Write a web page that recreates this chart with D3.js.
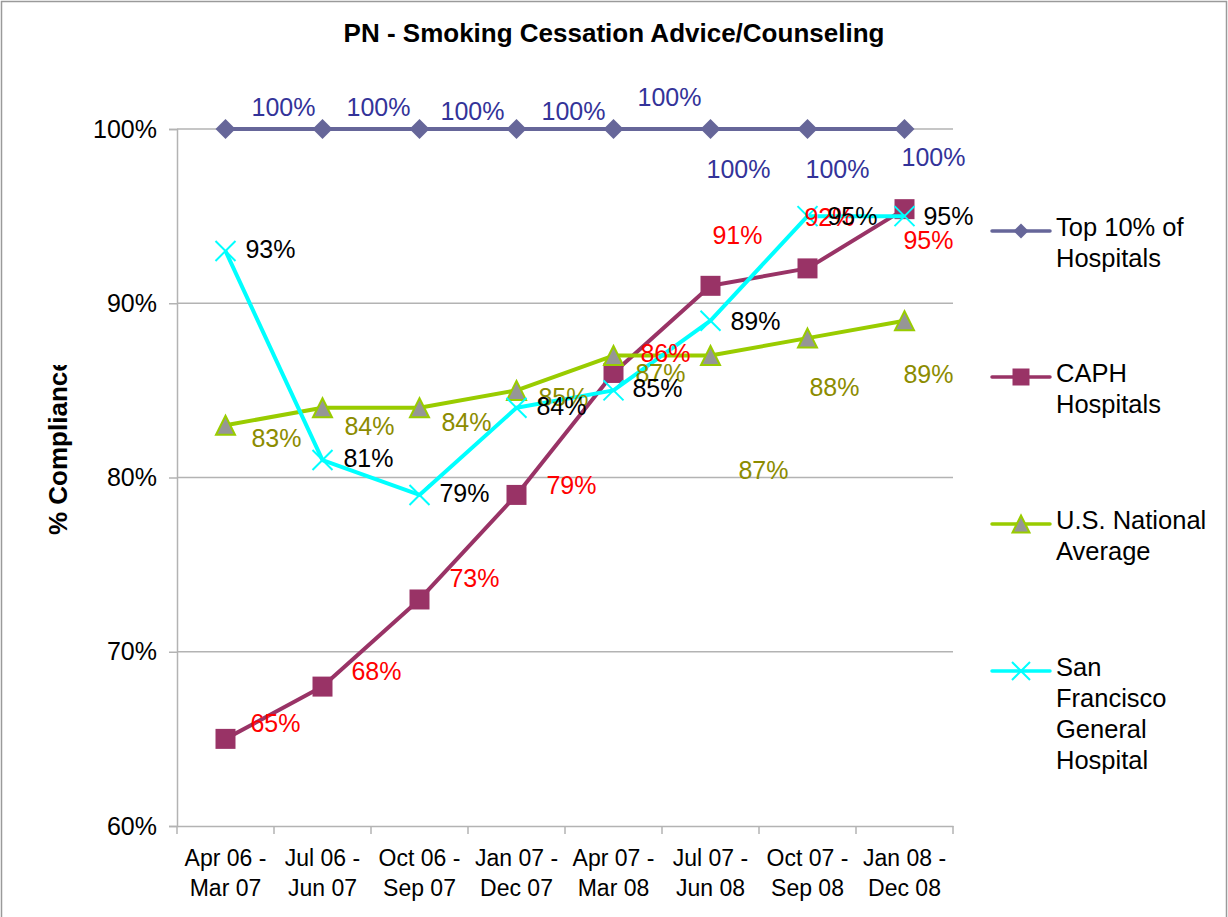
<!DOCTYPE html>
<html>
<head>
<meta charset="utf-8">
<script src="https://cdn.jsdelivr.net/npm/d3@7"></script>
<style>
  html, body { margin: 0; padding: 0; background: #fff; }
  svg { display: block; font-family: "Liberation Sans", Arial, sans-serif; }
</style>
</head>
<body>
<svg id="chart" width="1228" height="917"></svg>
<script>
// ---- data ----
const categories = [
  ["Apr 06 -", "Mar 07"], ["Jul 06 -", "Jun 07"], ["Oct 06 -", "Sep 07"], ["Jan 07 -", "Dec 07"],
  ["Apr 07 -", "Mar 08"], ["Jul 07 -", "Jun 08"], ["Oct 07 -", "Sep 08"], ["Jan 08 -", "Dec 08"]
];
const top10Values    = [100, 100, 100, 100, 100, 100, 100, 100];
const caphValues     = [65, 68, 73, 79, 86, 91, 92, 95.4];
const nationalValues = [83, 84, 84, 85, 87, 87, 88, 89];
const sfghValues     = [93, 81, 79, 84, 85, 89, 95, 95];
const yTickValues    = [60, 70, 80, 90, 100];
const seriesNames = [
  ["Top 10% of", "Hospitals"],
  ["CAPH", "Hospitals"],
  ["U.S. National", "Average"],
  ["San", "Francisco", "General", "Hospital"]
];
const titleText = "PN - Smoking Cessation Advice/Counseling";
const yTitleText = "% Compliance";

// label offsets (layout, in px relative to each point)
const top10LabelOff    = [[58,-22],[56,-22],[53,-18],[57,-18],[56,-32],[28,40],[30,40],[29,28]];
const caphLabelOff     = [[50,-16],[54,-16],[55,-21],[55,-10],[52,-20],[27,-51],[22,-51],[24,31]];
const nationalLabelOff = [[51,13],[47,18],[47,14],[47,7],[47,17],[53,114],[27,49],[24,53]];
const sfghLabelOff     = [[45,-2],[46,-2],[45,-2],[45,-2],[44,-2],[45,0],[45,0],[44,0]];

(function () {
// ---- layout ----
const svg = d3.select("#chart");
const pLeft = 177, pRight = 953, pTop = 129, pBottom = 826;

const x = d3.scaleBand().domain(d3.range(categories.length)).range([pLeft, pRight]).padding(0);
const y = d3.scaleLinear().domain([60, 100]).range([pBottom, pTop]);
const cx = i => x(i) + x.bandwidth() / 2;

// outer border
svg.append("path").attr("d", "M1.5,917 V1.5 H1226.5 V917")
  .attr("fill", "none").attr("stroke", "#9a9a9a").attr("stroke-width", 1.5);

// title
svg.append("text").attr("x", 614).attr("y", 42).attr("text-anchor", "middle")
  .attr("font-size", 26).attr("font-weight", "bold").text(titleText);

// gridlines
svg.append("g").selectAll("line").data(yTickValues.filter(v => v > 60)).join("line")
  .attr("x1", pLeft).attr("x2", pRight).attr("y1", d => y(d)).attr("y2", d => y(d))
  .attr("stroke", "#b3b3b3").attr("stroke-width", 1.5);

// y axis
const yAxis = svg.append("g").attr("transform", `translate(${pLeft},0)`)
  .call(d3.axisLeft(y).tickValues(yTickValues).tickFormat(d => d + "%").tickSize(8).tickPadding(12));
yAxis.selectAll("path, line").attr("stroke", "#b3b3b3").attr("stroke-width", 1.5);
yAxis.selectAll("text").attr("font-size", 25).attr("font-family", "Liberation Sans, Arial, sans-serif").attr("fill", "#000");

// x axis
const xAxis = svg.append("g").attr("transform", `translate(0,${pBottom})`)
  .call(d3.axisBottom(x).tickSize(0).tickFormat(""));
xAxis.select("path").attr("stroke", "#b3b3b3").attr("stroke-width", 1.5);
svg.append("g").selectAll("line").data(d3.range(categories.length + 1)).join("line")
  .attr("x1", i => i < categories.length ? x(i) : pRight)
  .attr("x2", i => i < categories.length ? x(i) : pRight)
  .attr("y1", pBottom).attr("y2", pBottom + 8)
  .attr("stroke", "#b3b3b3").attr("stroke-width", 1.5);
const xl = svg.append("g").selectAll("text").data(categories).join("text")
  .attr("text-anchor", "middle").attr("font-size", 23).attr("fill", "#000");
xl.each(function(d, i) {
  const t = d3.select(this);
  d.forEach((ln, j) => t.append("tspan").attr("x", cx(i)).attr("y", 866 + j * 30).text(ln));
});

// y title (clipped at top like the reference)
svg.append("clipPath").attr("id", "ytclip").append("rect")
  .attr("x", 0).attr("y", 365).attr("width", 120).attr("height", 552);
svg.append("g").attr("clip-path", "url(#ytclip)")
  .append("text")
  .attr("transform", "translate(66.5,535) rotate(-90)")
  .attr("font-size", 26).attr("font-weight", "bold").text(yTitleText);

// ---- series ----
const diamond = r => `M0,${-r}L${r},0L0,${r}L${-r},0Z`;
const square = r => `M${-r},${-r}H${r}V${r}H${-r}Z`;
const triangle = r => `M0,${-r}L${r},${r}H${-r}Z`;
const cross = r => `M${-r},${-r}L${r},${r}M${r},${-r}L${-r},${r}`;

const series = [
  { values: top10Values, color: "#666699", labelColor: "#333399", off: top10LabelOff,
    marker: diamond, fill: "#666699", stroke: "none", sw: 0, r: 10, lr: 7.5 },
  { values: caphValues, color: "#993366", labelColor: "#ff0000", off: caphLabelOff,
    marker: square, fill: "#993366", stroke: "none", sw: 0, r: 10, lr: 8.5 },
  { values: nationalValues, color: "#99cc00", labelColor: "#8c8c00", off: nationalLabelOff,
    marker: triangle, fill: "#969696", stroke: "#99cc00", sw: 2, r: 9.5, lr: 8.5 },
  { values: sfghValues, color: "#00ffff", labelColor: "#000000", off: sfghLabelOff,
    marker: cross, fill: "none", stroke: "#00ffff", sw: 2, r: 10, lr: 9 }
];

const line = d3.line().x((d, i) => cx(i)).y(d => y(d));

series.forEach(s => {
  const g = svg.append("g");
  g.append("path").attr("d", line(s.values)).attr("fill", "none")
    .attr("stroke", s.color).attr("stroke-width", 4).attr("stroke-linejoin", "round");
  g.selectAll("path.m").data(s.values).join("path").attr("class", "m")
    .attr("transform", (d, i) => `translate(${cx(i)},${y(d)})`)
    .attr("d", s.marker(s.r)).attr("fill", s.fill)
    .attr("stroke", s.stroke).attr("stroke-width", s.sw);
});

series.forEach(s => {
  svg.append("g").selectAll("text").data(s.values).join("text")
    .attr("x", (d, i) => cx(i) + s.off[i][0])
    .attr("y", (d, i) => y(d) + s.off[i][1])
    .attr("dy", "0.36em").attr("text-anchor", "middle")
    .attr("font-size", 25).attr("fill", s.labelColor)
    .text(d => Math.round(d) + "%");
});

// ---- legend ----
const legendY = [231, 377, 524, 671];
const leg = svg.append("g");
series.forEach((s, k) => {
  const ly = legendY[k];
  leg.append("line").attr("x1", 992).attr("x2", 1050).attr("y1", ly).attr("y2", ly)
    .attr("stroke", s.color).attr("stroke-width", 3.5).attr("stroke-linecap", "round");
  leg.append("path").attr("transform", `translate(1021,${ly})`).attr("d", s.marker(s.lr))
    .attr("fill", s.fill).attr("stroke", s.stroke).attr("stroke-width", s.sw);
  const t = leg.append("text").attr("font-size", 25.5).attr("fill", "#000");
  seriesNames[k].forEach((ln, j) => t.append("tspan").attr("x", 1056)
    .attr("y", ly - 4 + j * 31).attr("dy", "0.36em").text(ln));
});
})();
</script>
</body>
</html>
